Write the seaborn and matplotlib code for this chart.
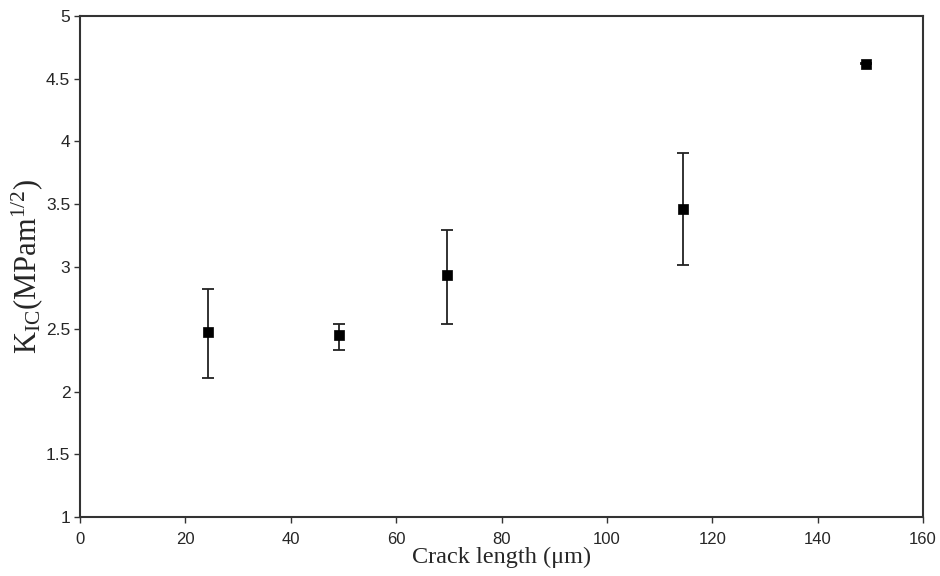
import numpy as np
import pandas as pd
import matplotlib
matplotlib.use("Agg")
import matplotlib.pyplot as plt
import seaborn as sns

# values
crack_length = [24.2, 49.1, 69.6, 114.4, 149.1]
k_ic = [2.48, 2.45, 2.93, 3.46, 4.62]
k_upper = [2.82, 2.545, 3.29, 3.905, 4.625]
k_lower = [2.11, 2.335, 2.545, 3.01, 4.615]

df = pd.DataFrame({"Crack": crack_length, "KIC": k_ic,
                   "hi": k_upper, "lo": k_lower})

sns.set_style("white")
plt.rcParams['font.family'] = ['Liberation Sans', 'DejaVu Sans']
plt.rcParams['mathtext.fontset'] = 'custom'
plt.rcParams['mathtext.rm'] = 'Liberation Serif'
plt.rcParams['mathtext.it'] = 'Liberation Serif:italic'

fig = plt.figure(figsize=(9.4, 5.76), dpi=100)
ax = fig.add_axes([0.0851, 0.1024, 0.8969, 0.8698])

yerr = np.array([df["KIC"] - df["lo"], df["hi"] - df["KIC"]])
ax.errorbar(df["Crack"], df["KIC"], yerr=yerr, fmt='none', ecolor='#222222',
            elinewidth=1.3, capsize=4.5, capthick=1.3, zorder=2)
sns.scatterplot(data=df, x="Crack", y="KIC", marker='s', s=55, color='black',
                edgecolor='black', linewidth=0.5, ax=ax, zorder=3)

ax.set_xlim(0, 160)
ax.set_ylim(1, 5)
ax.set_xticks(np.arange(0, 161, 20))
ax.set_yticks([1, 1.5, 2, 2.5, 3, 3.5, 4, 4.5, 5])
ax.set_yticklabels(['1', '1.5', '2', '2.5', '3', '3.5', '4', '4.5', '5'])
ax.tick_params(axis='both', direction='out', length=4, width=1, color='#333333',
               labelsize=12.5, bottom=True, left=True)
ax.tick_params(axis='x', pad=7, labelsize=12)
ax.tick_params(axis='y', pad=3)

for sp in ax.spines.values():
    sp.set_color('#333333')
    sp.set_linewidth(1.5)

ax.set_xlabel('Crack length (\u03bcm)', family=['Liberation Serif'], fontsize=17.5, labelpad=0)
ax.set_ylabel(r'K$_{\rm IC}$(MPam$^{1/2}$)', family=['Liberation Serif'], fontsize=22, labelpad=1)

plt.savefig('out.png', dpi=100)
